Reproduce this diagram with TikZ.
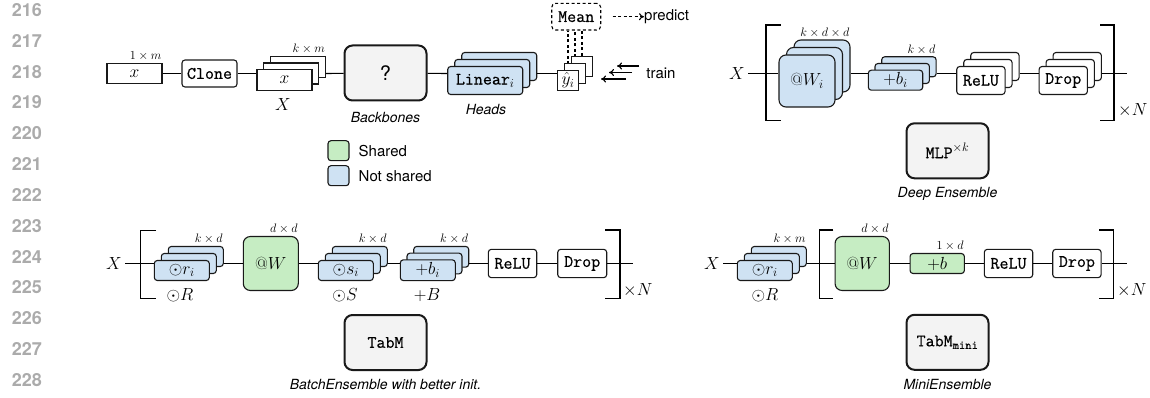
\RequirePackage{fix-cm}
\documentclass[tikz,border=0pt]{standalone}
\usepackage{fontspec}
\usetikzlibrary{arrows.meta}
\newfontfamily\hv{TeX Gyre Heros}
\setmonofont{Latin Modern Mono}[FakeBold=0.6]
\pgfdeclarelayer{background}
\pgfsetlayers{background,main}

\definecolor{nsblue}{HTML}{CFE2F3}
\definecolor{shgreen}{HTML}{C6EDC3}
\definecolor{bggray}{HTML}{F3F3F3}
\definecolor{lngray}{HTML}{ABABAB}

\newcommand{\mainsz}{\fontsize{17.5}{21}\selectfont}
\newcommand{\labsz}{\fontsize{12.25}{14}\selectfont}
\newcommand{\capsz}{\fontsize{14}{16}\selectfont}
\newcommand{\legsz}{\fontsize{15}{18}\selectfont}

% three staggered copies of one block: name, cx, cy (middle copy), width, height, offset, style, text
\newcommand{\layers}[8]{%
  \node[#7, minimum width=#4, minimum height=#5] (#1c) at (#2+#6, #3-#6) {};
  \node[#7, minimum width=#4, minimum height=#5] (#1b) at (#2, #3) {};
  \node[#7, minimum width=#4, minimum height=#5] (#1a) at (#2-#6, #3+#6) {#8};
}

\tikzset{
  conn/.style={line width=1.1pt, draw=black},
  dsh/.style={line width=1.1pt, dash pattern=on 3pt off 2.5pt},
  box/.style={draw=black!90, line width=1.1pt, rounded corners=3pt, inner sep=0pt},
  nsh/.style={box, fill=nsblue},
  shd/.style={box, fill=shgreen},
  wht/.style={box, fill=white},
  tt/.style={font=\mainsz\ttfamily},
  big/.style={draw=black!90, line width=2pt, rounded corners=8pt, fill=bggray,
              minimum width=82pt, minimum height=55pt, inner sep=0pt},
  lab/.style={font=\labsz, anchor=south east, inner xsep=1pt, inner ysep=2pt},
  captxt/.style={font=\hv\itshape\capsz},
  leg/.style={font=\hv\legsz, inner sep=0pt},
  brk/.style={line width=1.3pt},
  ar/.style={line width=1.1pt, -{To[length=5pt,width=7pt]}},
}

\begin{document}
\begin{tikzpicture}[x=1pt, y=-1pt, every node/.style={font=\mainsz}]
\useasboundingbox (0,0) rectangle (1150,398);

% margin line numbers
\foreach \n [count=\i from 0] in {216,...,228}
  \node[anchor=east, font=\hv\bfseries\fontsize{18}{20}\selectfont, text=lngray, inner sep=0pt]
    (ln\n) at (42, 10+30.83*\i) {\n};

% ---------------- general scheme ----------------
\node[wht, sharp corners, minimum width=55pt, minimum height=20pt] (xin) at (134.5,73.5) {$x$};
\node[lab] (lxin) at (xin.north east) {$1\times m$};
\node[wht, tt, minimum width=55pt, minimum height=27pt] (clone) at (209.5,73.5) {Clone};
\layers{Xs}{291.2}{73.5}{55pt}{21pt}{6.7}{wht, sharp corners}{$x$}
\node[lab] (lXs) at (Xsc.north east) {$k\times m$};
\node (Xlbl) at (283,105) {$X$};

\node[big] (bb) at (385.5,73) {\hv\fontsize{20}{22}\selectfont ?};
\node[captxt] (bbcap) at (385.5,118) {Backbones};

\layers{Hs}{492.2}{73.5}{75pt}{28pt}{7}{nsh}{\texttt{Linear}$_i$}
\node[captxt] (hcap) at (486,110) {Heads};

\layers{Ys}{575}{73.5}{20.7pt}{20.7pt}{7}{wht, sharp corners}{$\hat y_i$}
\node[draw, dsh, rounded corners=4pt, minimum width=49pt, minimum height=26.7pt,
      inner sep=0pt, tt] (mean) at (576.2,16.7) {Mean};
\begin{pgfonlayer}{background}
  \draw[dsh] (Ysa.north) -- (Ysa.north |- mean.south);
  \draw[dsh] (Ysb.north) -- (Ysb.north |- mean.south);
  \draw[dsh] (Ysc.north) -- (Ysc.north |- mean.south);
\end{pgfonlayer}

\draw[conn] (xin) -- (clone);
\draw[conn] (clone) -- (Xsa.west |- Xsb);
\draw[conn] (Xsc.east |- Xsb) -- (bb);
\draw[conn] (bb) -- (Hsa.west |- Hsb);
\draw[conn] (Hsc.east |- Hsb) -- (Ysa.west |- Ysb);

% inference / training
\node[leg, anchor=west] (pred) at (644,16.7) {predict};
\coordinate (pst) at (612.7,16.7);
\draw[dsh, -{To[length=5pt,width=7pt]}] (pst) -- (pred.west);
\node[leg] (train) at (661,73) {train};
\coordinate (t1a) at (639,66);  \coordinate (t1b) at (617,66);
\coordinate (t2a) at (632,72.5);\coordinate (t2b) at (609,72.5);
\coordinate (t3a) at (626,79);  \coordinate (t3b) at (601,79);
\draw[ar] (t1a) -- (t1b);
\draw[ar] (t2a) -- (t2b);
\draw[ar] (t3a) -- (t3b);

% legend
\node[shd, minimum width=21pt, minimum height=20pt] (lgs) at (338.5,150.7) {};
\node[nsh, minimum width=21pt, minimum height=20pt] (lgn) at (338.5,175.7) {};
\node[leg, anchor=west] (lgst) at (358.5,150.7) {Shared};
\node[leg, anchor=west] (lgnt) at (358.5,175.7) {Not shared};

% ---------------- Deep Ensemble ----------------
\node (Xd) at (737,73.5) {$X$};
\layers{Wd}{814.5}{73.5}{56pt}{52pt}{7.5}{nsh, rounded corners=7pt}{$@W_i$}
\node[lab] (lWd) at (Wdc.north east) {$k\times d\times d$};
\layers{Bd}{902.2}{73.5}{54.4pt}{20pt}{6.7}{nsh}{$+b_i$}
\node[lab] (lBd) at (Bdc.north east) {$k\times d$};
\layers{Rd}{987.9}{73.5}{48.3pt}{28pt}{7}{wht, tt}{ReLU}
\layers{Dd}{1070.2}{73.5}{48.3pt}{28pt}{7}{wht, tt}{Drop}
\coordinate (ed) at (1127.3,73.5);
\draw[conn] (Xd) -- (Wda.west |- Wdb);
\draw[conn] (Wdc.east |- Wdb) -- (Bda.west |- Bdb);
\draw[conn] (Bdc.east |- Bdb) -- (Rda.west |- Rdb);
\draw[conn] (Rdc.east |- Rdb) -- (Dda.west |- Ddb);
\draw[conn] (Ddc.east |- Ddb) -- (ed);
\draw[brk] (780.7,25) -- (766,25) -- (766,120.7) -- (780.7,120.7);
\draw[brk] (1100,25) -- (1114,25) -- (1114,120.7) -- (1100,120.7);
\node[anchor=west, inner sep=0pt] (Nd) at (1118,110) {$\times N$};
\node[big] (mlp) at (947.5,150.8) {\texttt{MLP}$^{\times k}$};
\node[captxt] (mlpcap) at (947.5,194) {Deep Ensemble};

% ---------------- TabM ----------------
\node (XL) at (114,263.5) {$X$};
\layers{rL}{188.8}{263.5}{55pt}{20pt}{7}{nsh}{$\odot r_i$}
\node[lab] (lrL) at (rLc.north east) {$k\times d$};
\node (RL) at (180,295) {$\odot R$};
\node[shd, rounded corners=7pt, minimum width=55pt, minimum height=54pt] (WL) at (270.8,263.5) {$@W$};
\node[lab] (lWL) at (WL.north east) {$d\times d$};
\layers{sL}{352.8}{263.5}{55pt}{20pt}{7}{nsh}{$\odot s_i$}
\node[lab] (lsL) at (sLc.north east) {$k\times d$};
\node (SL) at (345,295) {$\odot S$};
\layers{bL}{434.5}{263.5}{55pt}{20.7pt}{6.7}{nsh}{$+b_i$}
\node[lab] (lbL) at (bLc.north east) {$k\times d$};
\node (BL) at (427,295) {$+B$};
\node[wht, tt, minimum width=48.4pt, minimum height=28.3pt] (reluL) at (512.5,263.5) {ReLU};
\node[wht, tt, minimum width=49pt, minimum height=28.3pt] (dropL) at (582.2,263.5) {Drop};
\coordinate (eL) at (633.3,263.5);
\draw[conn] (XL) -- (rLa.west |- rLb);
\draw[conn] (rLc.east |- rLb) -- (WL);
\draw[conn] (WL) -- (sLa.west |- sLb);
\draw[conn] (sLc.east |- sLb) -- (bLa.west |- bLb);
\draw[conn] (bLc.east |- bLb) -- (reluL);
\draw[conn] (reluL) -- (dropL);
\draw[conn] (dropL) -- (eL);
\draw[brk] (156,230.7) -- (140.7,230.7) -- (140.7,298.3) -- (156,298.3);
\draw[brk] (605,230) -- (620,230) -- (620,298.3) -- (605,298.3);
\node[anchor=west, inner sep=0pt] (NL) at (623,290) {$\times N$};
\node[big] (tabm) at (385.5,342.5) {\texttt{TabM}};
\node[captxt] (tabmcap) at (385.5,384) {BatchEnsemble with better init.};

% ---------------- TabM mini ----------------
\node (XM) at (712,263.5) {$X$};
\layers{rM}{771.8}{263.5}{55pt}{20pt}{7}{nsh}{$\odot r_i$}
\node[lab] (lrM) at (rMc.north east) {$k\times m$};
\node (RM) at (765,295) {$\odot R$};
\node[shd, rounded corners=7pt, minimum width=54.3pt, minimum height=54pt] (WM) at (862.2,263.5) {$@W$};
\node[lab] (lWM) at (WM.north east) {$d\times d$};
\node[shd, minimum width=54.3pt, minimum height=20pt] (bM) at (937.2,263.5) {$+b$};
\node[lab] (lbM) at (bM.north east) {$1\times d$};
\node[wht, tt, minimum width=48.4pt, minimum height=28.3pt] (reluM) at (1008.5,263.5) {ReLU};
\node[wht, tt, minimum width=48.4pt, minimum height=28.3pt] (dropM) at (1076.9,263.5) {Drop};
\coordinate (eM) at (1126.7,263.5);
\draw[conn] (XM) -- (rMa.west |- rMb);
\draw[conn] (rMc.east |- rMb) -- (WM);
\draw[conn] (WM) -- (bM);
\draw[conn] (bM) -- (reluM);
\draw[conn] (reluM) -- (dropM);
\draw[conn] (dropM) -- (eM);
\draw[brk] (833.3,230) -- (819.3,230) -- (819.3,298.3) -- (833.3,298.3);
\draw[brk] (1099.3,230) -- (1113.3,230) -- (1113.3,298.3) -- (1099.3,298.3);
\node[anchor=west, inner sep=0pt] (NM) at (1117,290) {$\times N$};
\node[big] (tabmm) at (947.5,342.3) {\texttt{TabM}$_{\mathtt{mini}}$};
\node[captxt] (tabmmcap) at (947.5,384) {MiniEnsemble};
\end{tikzpicture}
\end{document}
